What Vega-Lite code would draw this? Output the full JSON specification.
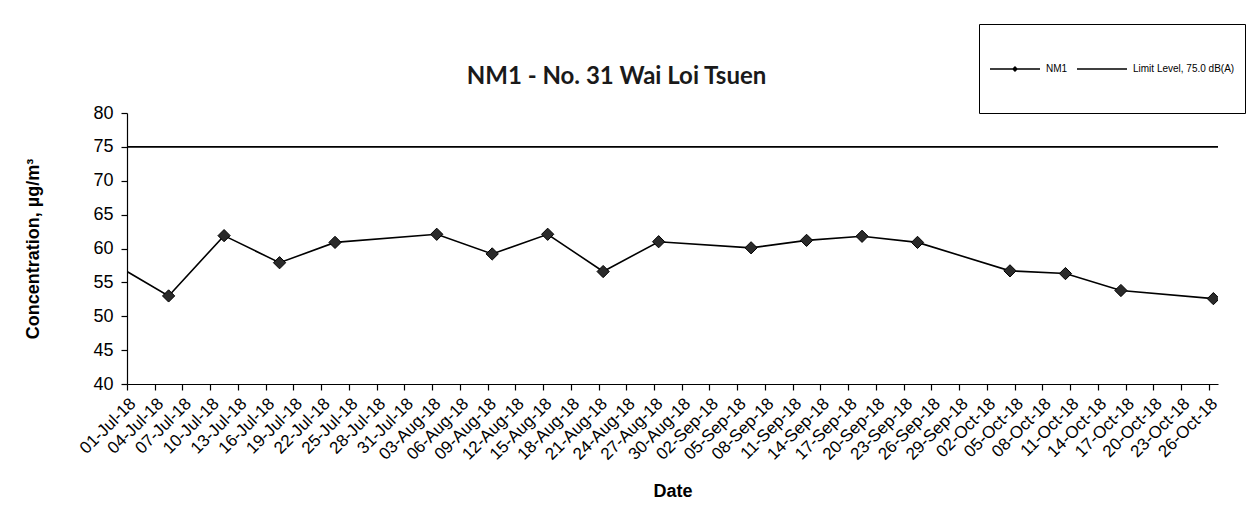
{
  "$schema": "https://vega.github.io/schema/vega-lite/v6.json",
  "width": 1091,
  "height": 271,
  "autosize": {"type": "pad"},
  "padding": {"left": 24, "top": 23, "right": 5, "bottom": 5},
  "background": "white",
  "title": {
    "text": "NM1 - No. 31 Wai Loi Tsuen",
    "font": "Lato",
    "fontSize": 24,
    "fontWeight": "bold",
    "color": "#1a1a1a",
    "anchor": "middle",
    "dx": -56,
    "offset": -65
  },
  "datasets": {
    "nm1": [
      {"date": "2018-06-29", "value": 57.8, "series": "NM1"},
      {"date": "2018-07-05", "value": 53.0, "series": "NM1"},
      {"date": "2018-07-11", "value": 61.9, "series": "NM1"},
      {"date": "2018-07-17", "value": 57.9, "series": "NM1"},
      {"date": "2018-07-23", "value": 60.9, "series": "NM1"},
      {"date": "2018-08-03", "value": 62.1, "series": "NM1"},
      {"date": "2018-08-09", "value": 59.2, "series": "NM1"},
      {"date": "2018-08-15", "value": 62.1, "series": "NM1"},
      {"date": "2018-08-21", "value": 56.6, "series": "NM1"},
      {"date": "2018-08-27", "value": 61.0, "series": "NM1"},
      {"date": "2018-09-06", "value": 60.1, "series": "NM1"},
      {"date": "2018-09-12", "value": 61.2, "series": "NM1"},
      {"date": "2018-09-18", "value": 61.8, "series": "NM1"},
      {"date": "2018-09-24", "value": 60.9, "series": "NM1"},
      {"date": "2018-10-04", "value": 56.7, "series": "NM1"},
      {"date": "2018-10-10", "value": 56.3, "series": "NM1"},
      {"date": "2018-10-16", "value": 53.8, "series": "NM1"},
      {"date": "2018-10-26", "value": 52.6, "series": "NM1"}
    ],
    "limit": [
      {"series": "Limit Level, 75.0 dB(A)", "value": 75}
    ]
  },
  "layer": [
    {
      "data": {"name": "nm1"},
      "mark": {"type": "line", "clip": true, "strokeWidth": 1.6},
      "encoding": {
        "x": {
          "field": "date",
          "type": "temporal",
          "scale": {
            "type": "utc",
            "domain": [
              {"year": 2018, "month": 6, "date": 30, "hours": 12, "utc": true},
              {"year": 2018, "month": 10, "date": 26, "hours": 12, "utc": true}
            ]
          },
          "axis": {
            "title": "Date",
            "values": [
              {"year": 2018, "month": 7, "date": 1, "utc": true},
              {"year": 2018, "month": 7, "date": 4, "utc": true},
              {"year": 2018, "month": 7, "date": 7, "utc": true},
              {"year": 2018, "month": 7, "date": 10, "utc": true},
              {"year": 2018, "month": 7, "date": 13, "utc": true},
              {"year": 2018, "month": 7, "date": 16, "utc": true},
              {"year": 2018, "month": 7, "date": 19, "utc": true},
              {"year": 2018, "month": 7, "date": 22, "utc": true},
              {"year": 2018, "month": 7, "date": 25, "utc": true},
              {"year": 2018, "month": 7, "date": 28, "utc": true},
              {"year": 2018, "month": 7, "date": 31, "utc": true},
              {"year": 2018, "month": 8, "date": 3, "utc": true},
              {"year": 2018, "month": 8, "date": 6, "utc": true},
              {"year": 2018, "month": 8, "date": 9, "utc": true},
              {"year": 2018, "month": 8, "date": 12, "utc": true},
              {"year": 2018, "month": 8, "date": 15, "utc": true},
              {"year": 2018, "month": 8, "date": 18, "utc": true},
              {"year": 2018, "month": 8, "date": 21, "utc": true},
              {"year": 2018, "month": 8, "date": 24, "utc": true},
              {"year": 2018, "month": 8, "date": 27, "utc": true},
              {"year": 2018, "month": 8, "date": 30, "utc": true},
              {"year": 2018, "month": 9, "date": 2, "utc": true},
              {"year": 2018, "month": 9, "date": 5, "utc": true},
              {"year": 2018, "month": 9, "date": 8, "utc": true},
              {"year": 2018, "month": 9, "date": 11, "utc": true},
              {"year": 2018, "month": 9, "date": 14, "utc": true},
              {"year": 2018, "month": 9, "date": 17, "utc": true},
              {"year": 2018, "month": 9, "date": 20, "utc": true},
              {"year": 2018, "month": 9, "date": 23, "utc": true},
              {"year": 2018, "month": 9, "date": 26, "utc": true},
              {"year": 2018, "month": 9, "date": 29, "utc": true},
              {"year": 2018, "month": 10, "date": 2, "utc": true},
              {"year": 2018, "month": 10, "date": 5, "utc": true},
              {"year": 2018, "month": 10, "date": 8, "utc": true},
              {"year": 2018, "month": 10, "date": 11, "utc": true},
              {"year": 2018, "month": 10, "date": 14, "utc": true},
              {"year": 2018, "month": 10, "date": 17, "utc": true},
              {"year": 2018, "month": 10, "date": 20, "utc": true},
              {"year": 2018, "month": 10, "date": 23, "utc": true},
              {"year": 2018, "month": 10, "date": 26, "utc": true}
            ],
            "format": "%d-%b-%y",
            "labelAngle": -45,
            "labelAlign": "right",
            "labelBaseline": "top",
            "labelFontSize": 17,
            "labelOverlap": false,
            "labelPadding": 5,
            "tickOffset": -4.62,
            "tickSize": 6,
            "titleFontSize": 18,
            "titlePadding": 20,
            "grid": false
          }
        },
        "y": {
          "field": "value",
          "type": "quantitative",
          "scale": {"domain": [40, 80], "nice": false, "zero": false},
          "axis": {
            "title": "Concentration, µg/m³",
            "values": [40, 45, 50, 55, 60, 65, 70, 75, 80],
            "labelOverlap": false,
            "labelFontSize": 18,
            "tickSize": 6,
            "labelPadding": 8,
            "titleFontSize": 18,
            "titlePadding": 50,
            "grid": false
          }
        },
        "color": {
          "field": "series",
          "type": "nominal",
          "scale": {"domain": ["NM1", "Limit Level, 75.0 dB(A)"], "range": ["black", "black"]},
          "legend": {
            "title": " ",
            "titleFontSize": 5,
            "titlePadding": 4,
            "orient": "none",
            "legendX": 852,
            "legendY": -89,
            "direction": "horizontal",
            "strokeColor": "black",
            "padding": 10,
            "symbolSize": 2500,
            "symbolStrokeWidth": 1.5,
            "symbolType": "stroke",
            "labelFont": "Liberation Sans",
            "labelFontSize": 10,
            "labelColor": "black",
            "labelOffset": 5,
            "columnPadding": 6,
            "encode": {
              "symbols": {
                "update": {
                  "shape": {"signal": "datum.value === 'NM1' ? 'M-1,0H1M-0.08,0L0,-0.08L0.08,0L0,0.08ZM0,-0.5M0,1.24' : 'M-1,0H1M0,-0.5M0,1.24'"},
                  "fill": {"value": "black"},
                  "stroke": {"value": "black"}
                }
              }
            }
          }
        }
      }
    },
    {
      "data": {"name": "nm1"},
      "mark": {"type": "point", "shape": "diamond", "filled": true, "clip": true, "size": 150, "fill": "#2a2a2a", "stroke": "black", "strokeWidth": 1, "opacity": 1},
      "encoding": {
        "x": {
          "field": "date",
          "type": "temporal",
          "scale": {
            "type": "utc",
            "domain": [
              {"year": 2018, "month": 6, "date": 30, "hours": 12, "utc": true},
              {"year": 2018, "month": 10, "date": 26, "hours": 12, "utc": true}
            ]
          },
          "axis": {
            "title": "Date",
            "values": [
              {"year": 2018, "month": 7, "date": 1, "utc": true},
              {"year": 2018, "month": 7, "date": 4, "utc": true},
              {"year": 2018, "month": 7, "date": 7, "utc": true},
              {"year": 2018, "month": 7, "date": 10, "utc": true},
              {"year": 2018, "month": 7, "date": 13, "utc": true},
              {"year": 2018, "month": 7, "date": 16, "utc": true},
              {"year": 2018, "month": 7, "date": 19, "utc": true},
              {"year": 2018, "month": 7, "date": 22, "utc": true},
              {"year": 2018, "month": 7, "date": 25, "utc": true},
              {"year": 2018, "month": 7, "date": 28, "utc": true},
              {"year": 2018, "month": 7, "date": 31, "utc": true},
              {"year": 2018, "month": 8, "date": 3, "utc": true},
              {"year": 2018, "month": 8, "date": 6, "utc": true},
              {"year": 2018, "month": 8, "date": 9, "utc": true},
              {"year": 2018, "month": 8, "date": 12, "utc": true},
              {"year": 2018, "month": 8, "date": 15, "utc": true},
              {"year": 2018, "month": 8, "date": 18, "utc": true},
              {"year": 2018, "month": 8, "date": 21, "utc": true},
              {"year": 2018, "month": 8, "date": 24, "utc": true},
              {"year": 2018, "month": 8, "date": 27, "utc": true},
              {"year": 2018, "month": 8, "date": 30, "utc": true},
              {"year": 2018, "month": 9, "date": 2, "utc": true},
              {"year": 2018, "month": 9, "date": 5, "utc": true},
              {"year": 2018, "month": 9, "date": 8, "utc": true},
              {"year": 2018, "month": 9, "date": 11, "utc": true},
              {"year": 2018, "month": 9, "date": 14, "utc": true},
              {"year": 2018, "month": 9, "date": 17, "utc": true},
              {"year": 2018, "month": 9, "date": 20, "utc": true},
              {"year": 2018, "month": 9, "date": 23, "utc": true},
              {"year": 2018, "month": 9, "date": 26, "utc": true},
              {"year": 2018, "month": 9, "date": 29, "utc": true},
              {"year": 2018, "month": 10, "date": 2, "utc": true},
              {"year": 2018, "month": 10, "date": 5, "utc": true},
              {"year": 2018, "month": 10, "date": 8, "utc": true},
              {"year": 2018, "month": 10, "date": 11, "utc": true},
              {"year": 2018, "month": 10, "date": 14, "utc": true},
              {"year": 2018, "month": 10, "date": 17, "utc": true},
              {"year": 2018, "month": 10, "date": 20, "utc": true},
              {"year": 2018, "month": 10, "date": 23, "utc": true},
              {"year": 2018, "month": 10, "date": 26, "utc": true}
            ],
            "format": "%d-%b-%y",
            "labelAngle": -45,
            "labelAlign": "right",
            "labelBaseline": "top",
            "labelFontSize": 17,
            "labelOverlap": false,
            "labelPadding": 5,
            "tickOffset": -4.62,
            "tickSize": 6,
            "titleFontSize": 18,
            "titlePadding": 20,
            "grid": false
          }
        },
        "y": {
          "field": "value",
          "type": "quantitative",
          "scale": {"domain": [40, 80], "nice": false, "zero": false},
          "axis": {
            "title": "Concentration, µg/m³",
            "values": [40, 45, 50, 55, 60, 65, 70, 75, 80],
            "labelOverlap": false,
            "labelFontSize": 18,
            "tickSize": 6,
            "labelPadding": 8,
            "titleFontSize": 18,
            "titlePadding": 50,
            "grid": false
          }
        }
      }
    },
    {
      "data": {"name": "limit"},
      "mark": {"type": "rule", "strokeWidth": 1.6},
      "encoding": {
        "y": {
          "field": "value",
          "type": "quantitative",
          "scale": {"domain": [40, 80], "nice": false, "zero": false},
          "axis": {
            "title": "Concentration, µg/m³",
            "values": [40, 45, 50, 55, 60, 65, 70, 75, 80],
            "labelOverlap": false,
            "labelFontSize": 18,
            "tickSize": 6,
            "labelPadding": 8,
            "titleFontSize": 18,
            "titlePadding": 50,
            "grid": false
          }
        },
        "color": {"field": "series", "type": "nominal"}
      }
    }
  ],
  "resolve": {"scale": {"color": "shared"}},
  "config": {
    "view": {"stroke": null},
    "font": "Liberation Sans",
    "axis": {
      "labelFont": "Liberation Sans",
      "titleFont": "Liberation Sans",
      "labelColor": "black",
      "titleColor": "black",
      "titleFontWeight": "bold",
      "domainColor": "black",
      "tickColor": "black",
      "domainWidth": 1.2,
      "tickWidth": 1.2
    }
  }
}
